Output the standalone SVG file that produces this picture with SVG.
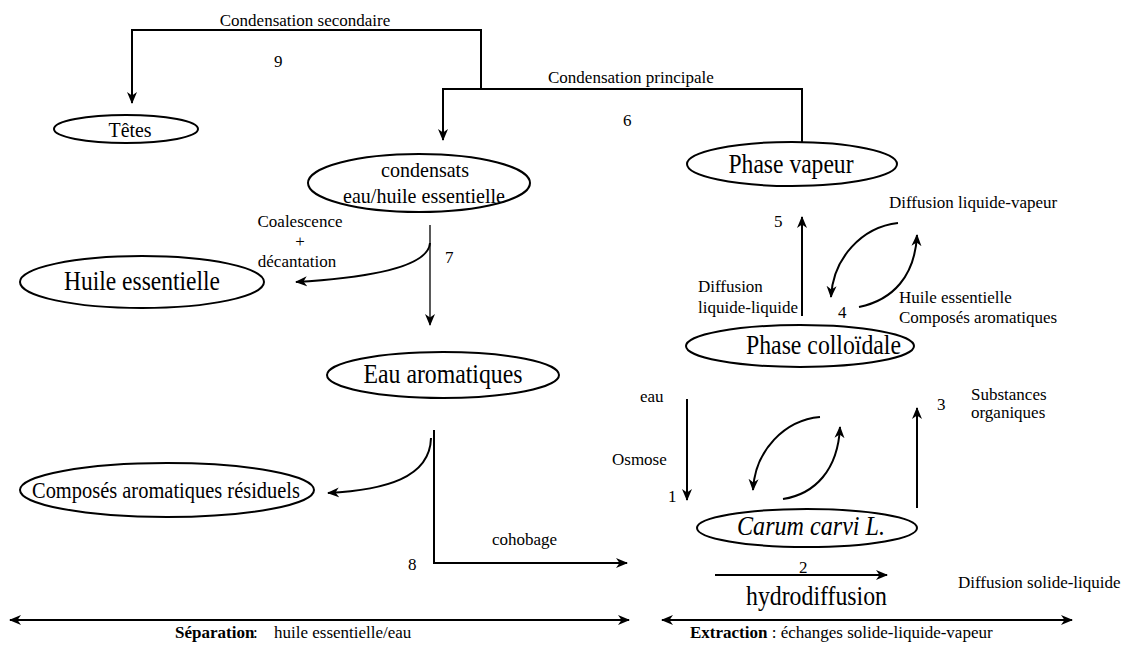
<svg xmlns="http://www.w3.org/2000/svg" width="1126" height="648" viewBox="0 0 1126 648" font-family="'Liberation Serif', 'DejaVu Serif', serif">
<style>
text{font-family:'Liberation Serif','DejaVu Serif',serif;fill:#000}
.s{font-size:17px}
.b{font-size:27px}
.m{font-size:21.5px}
.c{text-anchor:middle}
ellipse{fill:#fff;stroke:#000;stroke-width:2}
.ln{fill:none;stroke:#000;stroke-width:2}
.th{fill:none;stroke:#000;stroke-width:1.3}
</style>
<defs>
<marker id="ah" markerUnits="userSpaceOnUse" markerWidth="12" markerHeight="12" viewBox="0 0 12 12" refX="11" refY="6" orient="auto">
<path d="M0,1 L12,6 L0,11 L3.5,6 z" fill="#000"/>
</marker>
<marker id="as" markerUnits="userSpaceOnUse" markerWidth="12" markerHeight="12" viewBox="0 0 12 12" refX="1" refY="6" orient="auto">
<path d="M12,1 L0,6 L12,11 L8.5,6 z" fill="#000"/>
</marker>
</defs>

<g id="connectors">
<path class="ln" d="M481,89 V30 H132 V103" marker-end="url(#ah)"/>
<path class="ln" d="M802,142 V89 H443 V140" marker-end="url(#ah)"/>
<path class="th" d="M430,225 V325" marker-end="url(#ah)"/>
<path class="ln" d="M430,243 C428,268 365,278 296,282" marker-end="url(#ah)"/>
<path class="ln" d="M434,430 V563 H627" marker-end="url(#ah)"/>
<path class="ln" d="M431,438 C430,478 385,490 328,493" marker-end="url(#ah)"/>
<path class="ln" d="M802,316 V217" marker-end="url(#ah)"/>
<path class="ln" d="M898,223 C862,227 833,258 831,297" marker-end="url(#ah)"/>
<path class="ln" d="M859,307 C893,300 915,276 917,235" marker-end="url(#ah)"/>
<path class="ln" d="M687,399 V500" marker-end="url(#ah)"/>
<path class="ln" d="M917,508 V408" marker-end="url(#ah)"/>
<path class="ln" d="M820,417 C785,420 755,450 753,490" marker-end="url(#ah)"/>
<path class="ln" d="M783,499 C815,494 838,470 840,427" marker-end="url(#ah)"/>
<path class="ln" d="M715,575 H887" marker-end="url(#ah)"/>
<path class="ln" d="M10,620 H629" marker-start="url(#as)" marker-end="url(#ah)"/>
<path class="ln" d="M662,620 H1072" marker-start="url(#as)" marker-end="url(#ah)"/>
</g>

<g id="tetes">
<ellipse cx="126" cy="129" rx="72" ry="14"/>
<text class="m c" x="130" y="137" textLength="43" lengthAdjust="spacingAndGlyphs">Têtes</text>
</g>
<g id="condensats">
<ellipse cx="419" cy="183" rx="111" ry="29"/>
<text class="m c" x="425" y="177" textLength="88" lengthAdjust="spacingAndGlyphs">condensats</text>
<text class="m c" x="424" y="203" textLength="162" lengthAdjust="spacingAndGlyphs">eau/huile essentielle</text>
</g>
<g id="phase-vapeur">
<ellipse cx="792" cy="164" rx="105" ry="22"/>
<text class="b c" x="791" y="173" textLength="125" lengthAdjust="spacingAndGlyphs">Phase vapeur</text>
</g>
<g id="huile-essentielle">
<ellipse cx="142" cy="282" rx="122" ry="26"/>
<text class="b c" x="142" y="290" textLength="156" lengthAdjust="spacingAndGlyphs">Huile essentielle</text>
</g>
<g id="eau-aromatiques">
<ellipse cx="443" cy="375" rx="116" ry="23"/>
<text class="b c" x="443" y="383" textLength="159" lengthAdjust="spacingAndGlyphs">Eau aromatiques</text>
</g>
<g id="phase-colloidale">
<ellipse cx="800" cy="346" rx="114" ry="21"/>
<text class="b" x="746" y="354" textLength="155" lengthAdjust="spacingAndGlyphs">Phase colloïdale</text>
</g>
<g id="composes-residuels">
<ellipse cx="167" cy="490" rx="147" ry="27"/>
<text class="c" style="font-size:24px" x="166" y="498" textLength="268" lengthAdjust="spacingAndGlyphs">Composés aromatiques résiduels</text>
</g>
<g id="carum">
<ellipse cx="807" cy="528" rx="110" ry="19"/>
<text class="b c" style="font-style:italic" x="811" y="535" textLength="148" lengthAdjust="spacingAndGlyphs">Carum carvi L.</text>
</g>

<g id="labels">
<text class="s c" x="305" y="26">Condensation secondaire</text>
<text class="s" x="274" y="67">9</text>
<text class="s" x="548" y="83">Condensation principale</text>
<text class="s" x="623" y="126">6</text>
<text class="s c" x="300" y="227">Coalescence</text>
<text class="s c" x="300" y="247">+</text>
<text class="s c" x="297" y="267">décantation</text>
<text class="s" x="445" y="263">7</text>
<text class="s" x="889" y="208">Diffusion liquide-vapeur</text>
<text class="s" x="774" y="227">5</text>
<text class="s" x="698" y="292">Diffusion</text>
<text class="s" x="698" y="313">liquide-liquide</text>
<text class="s" x="838" y="318">4</text>
<text class="s" x="899" y="303">Huile essentielle</text>
<text class="s" x="899" y="323">Composés aromatiques</text>
<text class="s" x="640" y="402">eau</text>
<text class="s" x="612" y="465">Osmose</text>
<text class="s" x="668" y="502">1</text>
<text class="s" x="937" y="410">3</text>
<text class="s" x="971" y="400">Substances</text>
<text class="s" x="971" y="418">organiques</text>
<text class="s" x="492" y="545">cohobage</text>
<text class="s" x="408" y="570">8</text>
<text class="s" x="799" y="573">2</text>
<text class="b" x="746" y="605" textLength="141" lengthAdjust="spacingAndGlyphs">hydrodiffusion</text>
<text class="s" x="958" y="588">Diffusion solide-liquide</text>
<text class="s" y="638"><tspan x="175" font-weight="bold">Séparation</tspan><tspan x="253">:</tspan><tspan x="274">huile essentielle/eau</tspan></text>
<text class="s" x="690" y="638"><tspan font-weight="bold">Extraction</tspan> : échanges solide-liquide-vapeur</text>
</g>
</svg>
